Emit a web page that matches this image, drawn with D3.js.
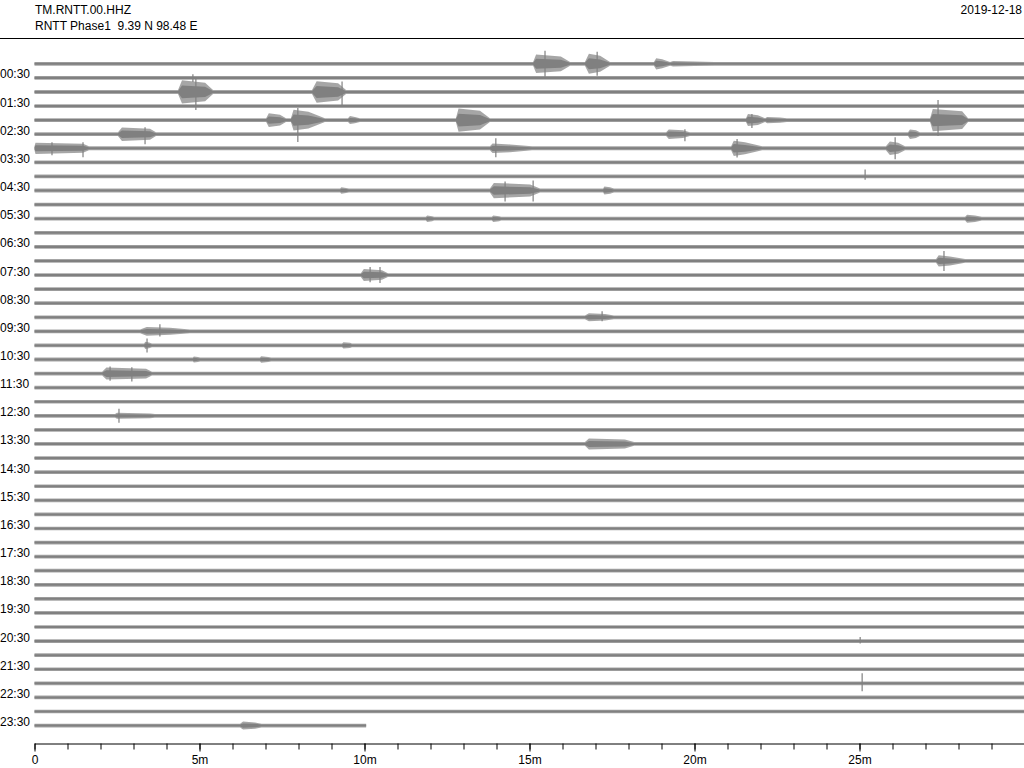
<!DOCTYPE html>
<html><head><meta charset="utf-8">
<script src="https://cdn.jsdelivr.net/npm/d3@7"></script>
<style>
body{margin:0;background:#fff}
svg{display:block}
text{font-family:"Liberation Sans",Arial,Helvetica,sans-serif;font-size:12px;fill:#000}
</style>
</head><body>
<svg id="chart" width="1024" height="768"></svg>
<script>
// ---------------- DATA ----------------
const stationCode = "TM.RNTT.00.HHZ";
const stationInfo = "RNTT Phase1  9.39 N 98.48 E";
const dayLabel = "2019-12-18";

// one label for every second 30-minute line (lines 1,3,5,...)
const hourLabels = ["00:30","01:30","02:30","03:30","04:30","05:30","06:30","07:30",
  "08:30","09:30","10:30","11:30","12:30","13:30","14:30","15:30","16:30","17:30",
  "18:30","19:30","20:30","21:30","22:30","23:30"];

// length of each 30-minute line in minutes (the last one stops early)
const lineLength = [30,30,30,30,30,30,30,30,30,30,30,30,30,30,30,30,30,30,30,30,30,30,30,30,
  30,30,30,30,30,30,30,30,30,30,30,30,30,30,30,30,30,30,30,30,30,30,30,10.05];

// background noise peak half-amplitude per line (counts)
const noiseLevel = [480,470,480,470,480,475,490,470,475,480,470,475,470,470,475,470,470,465,
  470,475,470,470,475,465,465,470,465,465,460,460,460,460,455,460,460,455,460,460,455,460,
  455,460,460,455,460,460,455,460];

// events: [line, onset, rise end, decay start, end (minutes), peak half-amplitude (counts)]
const events = [
  [0,15.11,15.20,15.95,16.23,2300],[0,16.68,16.80,17.14,17.44,2500],
  [0,18.77,18.84,19.02,19.26,1400],[0,19.26,19.35,20.00,20.60,700],
  [2,4.35,4.47,5.17,5.41,2900],[2,8.41,8.55,9.20,9.44,2700],
  [4,7.02,7.10,7.44,7.62,1700],[4,7.77,7.85,8.30,8.80,2600],[4,9.50,9.56,9.71,9.86,1000],
  [4,12.77,12.85,13.50,13.80,2900],[4,21.56,21.62,21.92,22.14,1500],[4,22.14,22.20,22.59,22.80,800],
  [4,27.14,27.22,28.11,28.29,2800],
  [5,2.53,2.65,3.50,3.68,1700],[5,19.14,19.22,19.65,19.86,1200],[5,26.47,26.53,26.71,26.83,1200],
  [6,0,0.03,1.47,1.65,1400],[6,13.80,13.88,14.41,15.08,1200],[6,21.11,21.19,21.53,22.05,1900],
  [6,25.80,25.92,26.17,26.38,1700],
  [9,9.26,9.30,9.44,9.53,800],[9,13.80,13.92,15.02,15.32,1900],[9,17.23,17.27,17.44,17.56,1000],
  [11,11.86,11.90,12.05,12.11,800],[11,13.86,13.90,14.08,14.14,800],[11,28.20,28.26,28.50,28.71,1000],
  [14,27.32,27.40,27.74,28.20,1400],
  [15,9.89,9.98,10.53,10.71,1500],
  [18,16.68,16.80,17.29,17.56,1000],
  [19,3.20,3.40,4.11,4.71,1100],
  [20,3.32,3.36,3.47,3.56,900],[20,9.32,9.36,9.56,9.62,800],
  [21,4.80,4.83,4.95,5.02,750],[21,6.83,6.87,7.08,7.17,800],
  [22,2.05,2.18,3.38,3.56,1500],
  [25,2.44,2.50,3.50,3.65,750],
  [27,16.68,16.80,17.89,18.17,1400],
  [47,6.23,6.32,6.68,6.88,1000]
];

// single large swings: [line, minute, up (counts), down (counts)]
const spikes = [
  [0,15.47,3250,3250],[0,17.05,3000,3000],
  [1,4.80,900,1000],
  [2,4.89,3500,4500],[2,9.32,2600,3500],
  [4,7.98,3000,5500],[4,27.38,5000,4000],[4,21.74,1500,2000],
  [5,3.35,1750,2500],[5,19.71,1250,1750],
  [6,0.53,1500,1750],[6,1.47,1500,2250],[6,13.98,2500,2250],[6,21.29,2300,2300],[6,26.08,2750,2750],
  [8,25.17,1750,800],
  [9,14.26,2250,2750],[9,15.11,2500,2750],
  [14,27.56,2500,2500],
  [15,10.17,2000,1800],[15,10.47,2000,2000],
  [18,17.20,1500,1000],
  [19,3.80,1750,1300],
  [20,3.41,1750,1750],
  [22,2.29,1800,1800],[22,2.95,1600,2000],
  [25,2.56,1750,1750],
  [41,25.02,1000,600],
  [44,25.08,2500,2000]
];

const minuteTicks = [0,1,2,3,4,5,6,7,8,9,10,11,12,13,14,15,16,17,18,19,20,21,22,23,24,25,26,27,28,29];
const majorTicks = [0,5,10,15,20,25];
const majorTickLabels = ["0","5m","10m","15m","20m","25m"];

// ---------------- DRAW ----------------
const svg = d3.select("#chart");
const W = 1024;
const traceColor = "#808080";

const x = d3.scaleLinear().domain([0, 30]).range([34.5, 1024.5]);
const lineY = d3.scaleLinear().domain([0, 47]).range([63.8, 725.6]);
const amp = d3.scaleLinear().domain([0, 1000]).range([0, 4]);

// header
svg.append("text").attr("x", 35).attr("y", 14).text(stationCode);
svg.append("text").attr("x", 35).attr("y", 30).attr("xml:space","preserve")
  .style("white-space","pre").text(stationInfo);
svg.append("text").attr("x", 1022).attr("y", 14).attr("text-anchor","end").text(dayLabel);
svg.append("line").attr("x1",0).attr("x2",W).attr("y1",38.5).attr("y2",38.5)
  .attr("stroke","#000").attr("stroke-width",1);

// traces: outer envelope drawn lighter (sparse peaks), inner core drawn solid
function makeArea(f) {
  return d3.area()
    .x(d => x(d[0]))
    .y0(d => d[2] + amp(d[1]) * f)
    .y1(d => d[2] - amp(d[1]) * f);
}
const outerArea = makeArea(1);
const innerArea = makeArea(0.55);

const traces = svg.append("g");
lineLength.forEach((len, i) => {
  const base = lineY(i);
  const n = noiseLevel[i];
  const evs = events.filter(e => e[0] === i).sort((a,b) => a[1]-b[1]);
  const knots = [[0, n, base]];
  evs.forEach(e => {
    knots.push([e[1], n, base], [e[2], Math.max(n, e[5]), base],
               [e[3], Math.max(n, e[5]) * 0.8, base], [e[4], n, base]);
  });
  knots.push([len, n, base]);
  traces.append("path").attr("d", outerArea(knots)).attr("fill", traceColor).attr("fill-opacity", 0.7);
  traces.append("path").attr("d", innerArea(knots)).attr("fill", traceColor);
});

traces.selectAll("line.spike").data(spikes).join("line")
  .attr("class","spike")
  .attr("x1", d => x(d[1])).attr("x2", d => x(d[1]))
  .attr("y1", d => lineY(d[0]) - amp(d[2]))
  .attr("y2", d => lineY(d[0]) + amp(d[3]))
  .attr("stroke", traceColor).attr("stroke-width", 1.2);

// hour labels on odd lines
svg.append("g").selectAll("text").data(hourLabels).join("text")
  .attr("x", 0)
  .attr("y", (d, k) => lineY(2*k + 1) + 0.5)
  .text(d => d);

// time axis
const axisY = 743.5;
const minorAxis = d3.axisBottom(x).tickValues(minuteTicks).tickSize(6).tickSizeOuter(0).tickFormat("");
const gMinor = svg.append("g").attr("transform", `translate(0,${axisY})`).call(minorAxis);
gMinor.select(".domain").attr("stroke","#000");
gMinor.selectAll(".tick line").attr("stroke","#000");

const majorAxis = d3.axisBottom(x).tickValues(majorTicks).tickSize(8).tickSizeOuter(0)
  .tickPadding(3.5).tickFormat((d, k) => majorTickLabels[k]);
const gMajor = svg.append("g").attr("transform", `translate(0,${axisY})`).call(majorAxis);
gMajor.select(".domain").remove();
gMajor.selectAll(".tick line").attr("stroke","#000");
gMajor.selectAll(".tick text").attr("font-family", null).attr("font-size", null)
  .style("font-family","'Liberation Sans',Arial,sans-serif").style("font-size","12px").attr("fill","#000");
</script>
</body></html>
